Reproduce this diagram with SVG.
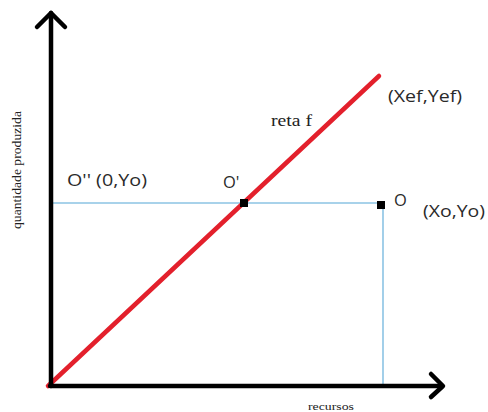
<svg xmlns="http://www.w3.org/2000/svg" width="488" height="412" viewBox="0 0 488 412">
<defs>
<style>
.ax{stroke:#000;stroke-width:4.5;fill:none;stroke-linecap:round;stroke-linejoin:round}
.guide{stroke:#8cc4e4;stroke-width:1.6;fill:none}
.lbl{font-family:"Open Sans","Liberation Sans",sans-serif;font-size:16.5px;fill:#2a2a2a}
.ser{font-family:"Liberation Serif",serif;fill:#222}
.pt{fill:#000}
</style>
</defs>
<rect width="488" height="412" fill="#fff"/>
<g id="connectors">
<polyline class="guide" points="50,203 383,203 383,386"/>
<line x1="48" y1="386" x2="379" y2="76" stroke="#e3202c" stroke-width="4.5" stroke-linecap="round"/>
<polyline class="ax" points="51,386 51,13"/>
<polyline class="ax" points="37,27 51,13 65,27"/>
<polyline class="ax" points="50,386 442,386"/>
<polyline class="ax" points="431,374 443,386 431,397"/>
</g>
<g id="node-Opp"><text class="lbl" x="67" y="186" textLength="80" lengthAdjust="spacingAndGlyphs">O'' (0,Yo)</text></g>
<g id="node-Op"><rect class="pt" x="240" y="199" width="8" height="8"/><text class="lbl" x="223" y="188">O'</text></g>
<g id="node-O"><rect class="pt" x="377" y="201" width="8" height="8"/><text class="lbl" x="394" y="206">O</text><text class="lbl" x="423" y="217" textLength="62" lengthAdjust="spacingAndGlyphs">(Xo,Yo)</text></g>
<g id="node-ef"><text class="lbl" x="388" y="102" textLength="74" lengthAdjust="spacingAndGlyphs">(Xef,Yef)</text></g>
<g id="node-reta"><text class="ser" x="271" y="126" font-size="16" textLength="41" lengthAdjust="spacingAndGlyphs">reta f</text></g>
<g id="axis-y-label"><text class="ser" font-size="12" text-anchor="middle" transform="translate(21,170) rotate(-90)" textLength="118" lengthAdjust="spacingAndGlyphs">quantidade produzida</text></g>
<g id="axis-x-label"><text class="ser" font-size="11" x="308" y="410" textLength="46" lengthAdjust="spacingAndGlyphs">recursos</text></g>
</svg>
